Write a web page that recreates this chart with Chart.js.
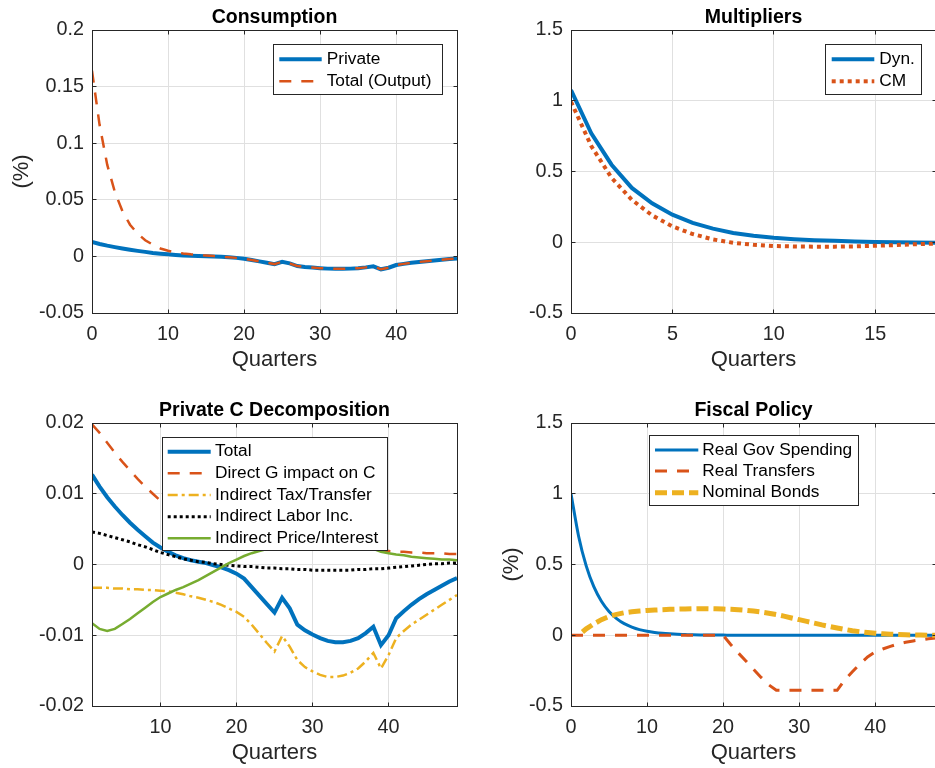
<!DOCTYPE html>
<html>
<head>
<meta charset="utf-8">
<script src="https://cdn.jsdelivr.net/npm/chart.js@4/dist/chart.umd.min.js"></script>
<style>
  html, body { margin: 0; padding: 0; background: #fff; overflow: hidden; width: 935px; height: 768px; position: relative; }
  canvas { position: absolute; }
</style>
</head>
<body>
<canvas id="cons" width="468" height="385" style="left:0px;top:0px"></canvas>
<canvas id="mult" width="480" height="385" style="left:468px;top:0px"></canvas>
<canvas id="decomp" width="468" height="378" style="left:0px;top:390px"></canvas>
<canvas id="fiscal" width="480" height="378" style="left:468px;top:390px"></canvas>
<script>
// ---------- data ----------
// Private consumption response, quarters 1..49 (also the "Total" of the decomposition)
const privateC = [
  0.0127, 0.0110, 0.0095, 0.0082, 0.0070, 0.0059, 0.0049, 0.0040, 0.0031, 0.0024,
  0.0018, 0.0013, 0.0009, 0.0006, 0.0004, 0.0002, -0.0001, -0.0004, -0.0008, -0.0013,
  -0.0020, -0.0032, -0.0044, -0.0056, -0.0068, -0.0047, -0.0062, -0.0085, -0.0093, -0.0099,
  -0.0104, -0.0108, -0.0110, -0.0110, -0.0108, -0.0104, -0.0097, -0.0088, -0.0114, -0.0100,
  -0.0076, -0.0066, -0.0057, -0.0049, -0.0042, -0.0036, -0.0030, -0.0024, -0.0019
];
// Total consumption incl. government (output), quarters 0..48
const outputC = [
  0.164, 0.116, 0.081, 0.057, 0.040, 0.028, 0.020, 0.0143, 0.0103, 0.0070,
  0.0050, 0.0036, 0.0026, 0.0018, 0.0012, 0.0007, 0.0003, -0.0003, -0.0008, -0.0013,
  -0.0020, -0.0032, -0.0044, -0.0056, -0.0068, -0.0047, -0.0062, -0.0085, -0.0093, -0.0099,
  -0.0104, -0.0108, -0.0110, -0.0110, -0.0108, -0.0104, -0.0097, -0.0088, -0.0114, -0.0100,
  -0.0076, -0.0066, -0.0057, -0.0049, -0.0042, -0.0036, -0.0030, -0.0024, -0.0019
];

// Multipliers, quarters 0..18
const multDyn = [1.076, 0.770, 0.548, 0.384, 0.275, 0.195, 0.137, 0.096, 0.066, 0.046,
  0.032, 0.022, 0.015, 0.010, 0.005, 0.002, 0.000, -0.002, -0.003];
const multCM = [0.993, 0.680, 0.455, 0.300, 0.190, 0.112, 0.058, 0.020, -0.004, -0.018,
  -0.026, -0.030, -0.031, -0.031, -0.029, -0.025, -0.020, -0.014, -0.009];

// Private C decomposition, quarters 1..49
const directG = [
  0.0198, 0.0186, 0.0172, 0.0158, 0.0145, 0.0133, 0.0121, 0.0110, 0.0100, 0.0090,
  0.0082, 0.0075, 0.0069, 0.0063, 0.0058, 0.0054, 0.0050, 0.0047, 0.0044, 0.0041,
  0.0039, 0.0037, 0.0035, 0.0033, 0.0032, 0.0030, 0.0029, 0.0028, 0.0027, 0.0026,
  0.0025, 0.0024, 0.0023, 0.0023, 0.0022, 0.0022, 0.0021, 0.0021, 0.0020, 0.0019,
  0.0018, 0.0018, 0.0017, 0.0017, 0.0016, 0.0016, 0.0016, 0.0015, 0.0015
];
const taxTransfer = [
  -0.0033, -0.0033, -0.0033, -0.0034, -0.0034, -0.0035, -0.0035, -0.0036, -0.0036, -0.0037,
  -0.0038, -0.0040, -0.0042, -0.0045, -0.0047, -0.0050, -0.0053, -0.0057, -0.0062, -0.0067,
  -0.0074, -0.0085, -0.0098, -0.0111, -0.0123, -0.0101, -0.0116, -0.0135, -0.0145, -0.0151,
  -0.0156, -0.0159, -0.0159, -0.0157, -0.0153, -0.0147, -0.0137, -0.0125, -0.0147, -0.0128,
  -0.0104, -0.0094, -0.0085, -0.0078, -0.0071, -0.0064, -0.0057, -0.0050, -0.0043
];
const laborInc = [
  0.0046, 0.0044, 0.0041, 0.0038, 0.0035, 0.0032, 0.0028, 0.0025, 0.0021, 0.0017,
  0.0014, 0.0011, 0.0008, 0.0006, 0.0004, 0.0003, 0.0001, 0.0000, -0.0001, -0.0002,
  -0.0003, -0.0003, -0.0004, -0.0005, -0.0005, -0.0006, -0.0006, -0.0007, -0.0007, -0.0008,
  -0.0008, -0.0008, -0.0008, -0.0008, -0.0008, -0.0007, -0.0007, -0.0006, -0.0006, -0.0005,
  -0.0004, -0.0003, -0.0002, -0.0001, 0.0000, 0.0001, 0.0001, 0.0002, 0.0002
];
const priceInterest = [
  -0.0083, -0.0091, -0.0094, -0.0091, -0.0084, -0.0077, -0.0069, -0.0061, -0.0053, -0.0046,
  -0.0041, -0.0036, -0.0032, -0.0027, -0.0022, -0.0016, -0.0010, -0.0004, 0.0002, 0.0007,
  0.0012, 0.0016, 0.0019, 0.0022, 0.0025, 0.0027, 0.0029, 0.0031, 0.0033, 0.0034,
  0.0035, 0.0036, 0.0036, 0.0036, 0.0035, 0.0033, 0.0029, 0.0022, 0.0018, 0.0016,
  0.0014, 0.0013, 0.0011, 0.0010, 0.0009, 0.0008, 0.0007, 0.0007, 0.0006
];

// Fiscal policy, quarters 0..48
const govSpending = [
  1.000, 0.700, 0.490, 0.343, 0.240, 0.168, 0.118, 0.082, 0.058, 0.040,
  0.028, 0.020, 0.014, 0.010, 0.007, 0.005, 0.003, 0.002, 0.002, 0.001,
  0.001, 0, 0, 0, 0, 0, 0, 0, 0, 0,
  0, 0, 0, 0, 0, 0, 0, 0, 0, 0,
  0, 0, 0, 0, 0, 0, 0, 0, 0
];
const realTransfers = [
  0, 0, 0, 0, 0, 0, 0, 0, 0, 0,
  0, 0, 0, 0, 0, 0, 0, 0, 0, 0,
  0, -0.065, -0.125, -0.182, -0.240, -0.298, -0.350, -0.389, -0.389, -0.389,
  -0.389, -0.389, -0.389, -0.389, -0.389, -0.389, -0.315, -0.258, -0.203, -0.153,
  -0.118, -0.097, -0.079, -0.062, -0.050, -0.040, -0.032, -0.025, -0.020
];
const nominalBonds = [
  null, 0.000, 0.045, 0.080, 0.110, 0.132, 0.148, 0.159, 0.166, 0.171,
  0.175, 0.178, 0.181, 0.183, 0.185, 0.186, 0.187, 0.188, 0.188, 0.187,
  0.185, 0.183, 0.180, 0.176, 0.171, 0.164, 0.156, 0.146, 0.135, 0.122,
  0.110, 0.098, 0.086, 0.073, 0.062, 0.051, 0.041, 0.032, 0.025, 0.019,
  0.014, 0.010, 0.007, 0.005, 0.003, 0.002, 0.001, 0.000, 0.000
];

// Tick values
const ticksX48 = [0, 10, 20, 30, 40];
const ticksXDecomp = [10, 20, 30, 40];
const ticksXMult = [0, 5, 10, 15];
const ticksYCons = [-0.05, 0, 0.05, 0.1, 0.15, 0.2];
const ticksYMult = [-0.5, 0, 0.5, 1, 1.5];
const ticksYDecomp = [-0.02, -0.01, 0, 0.01, 0.02];

// ---------- styling ----------
const FONT = '"Liberation Sans", Arial, Helvetica, sans-serif';
const AXIS = '#262626';
const GRID = '#E0E0E0';
const BLUE = '#0072BD', RED = '#D95319', YELLOW = '#EDB120', GREEN = '#77AC30';

const series = (xStart, ys) => ys.map((y, i) => ({ x: xStart + i, y }));

function line(label, data, color, width, dash, extra) {
  return Object.assign({
    label, data, borderColor: color, backgroundColor: color,
    borderWidth: width, borderDash: dash || [], pointRadius: 0, fill: false,
    tension: 0, spanGaps: false
  }, extra || {});
}

function alignPx(v) { return Math.round(v - 0.5) + 0.5; }

// Box, inward tick marks, title and legend drawn in the MATLAB axes style
const axesDecor = {
  id: 'axesDecor',
  afterDatasetsDraw(chart, args, opts) {
    const { ctx, chartArea: a, scales } = chart;
    const L = alignPx(a.left), R = alignPx(a.right), T = alignPx(a.top), B = alignPx(a.bottom);
    ctx.save();
    ctx.strokeStyle = AXIS;
    ctx.lineWidth = 1;
    ctx.setLineDash([]);
    ctx.strokeRect(L, T, R - L, B - T);
    const tl = 4;
    ctx.beginPath();
    scales.x.ticks.forEach(t => {
      const p = alignPx(scales.x.getPixelForValue(t.value));
      ctx.moveTo(p, B); ctx.lineTo(p, B - tl);
      ctx.moveTo(p, T); ctx.lineTo(p, T + tl);
    });
    scales.y.ticks.forEach(t => {
      const p = alignPx(scales.y.getPixelForValue(t.value));
      ctx.moveTo(L, p); ctx.lineTo(L + tl, p);
      ctx.moveTo(R, p); ctx.lineTo(R - tl, p);
    });
    ctx.stroke();

    // title
    ctx.fillStyle = '#000';
    ctx.font = 'bold 19.5px ' + FONT;
    ctx.textAlign = 'center';
    ctx.textBaseline = 'alphabetic';
    ctx.fillText(opts.title, (a.left + a.right) / 2, a.top - 7.5);

    // legend
    const g = opts.legend, ox = opts.origin[0], oy = opts.origin[1];
    const bx0 = g.box[0] - ox, by0 = g.box[1] - oy, bx1 = g.box[2] - ox, by1 = g.box[3] - oy;
    ctx.fillStyle = '#fff';
    ctx.fillRect(bx0, by0, bx1 - bx0, by1 - by0);
    ctx.strokeStyle = AXIS;
    ctx.lineWidth = 1;
    ctx.strokeRect(bx0, by0, bx1 - bx0, by1 - by0);
    ctx.font = '17.3px ' + FONT;
    ctx.textAlign = 'left';
    ctx.textBaseline = 'middle';
    chart.data.datasets.forEach((ds, i) => {
      const y = g.rows[i] - oy;
      ctx.save();
      ctx.strokeStyle = ds.borderColor;
      ctx.lineWidth = ds.borderWidth;
      ctx.setLineDash(ds.borderDash || []);
      ctx.lineDashOffset = 0;
      ctx.beginPath();
      ctx.moveTo(g.sample[0] - ox, y);
      ctx.lineTo(g.sample[1] - ox, y);
      ctx.stroke();
      ctx.restore();
      ctx.fillStyle = '#000';
      ctx.fillText(ds.label, g.textX - ox, y);
    });
    ctx.restore();
  }
};

function makeChart(id, p) {
  const n = p.datasets.length;
  p.datasets.forEach((d, i) => { d.order = n - i; });
  const tickFont = { family: FONT, size: 19.8 };
  const yScale = {
    type: 'linear', min: p.yMin, max: p.yMax,
    afterBuildTicks: s => { s.ticks = p.yTicks.map(v => ({ value: v })); },
    afterFit: s => { s.width = p.yWidth; },
    grid: { color: GRID, lineWidth: 1, drawTicks: false },
    border: { display: false },
    ticks: { font: tickFont, color: AXIS, padding: 8, autoSkip: false, callback: v => String(v) },
    title: p.yTitle ? { display: true, text: p.yTitle, color: AXIS,
      font: { family: FONT, size: 22 }, padding: { top: p.yTitlePad, bottom: 0 } } : { display: false }
  };
  const xScale = {
    type: 'linear', min: p.xMin, max: p.xMax,
    afterBuildTicks: s => { s.ticks = p.xTicks.map(v => ({ value: v })); },
    afterFit: s => { s.height = 60; },
    grid: { color: GRID, lineWidth: 1, drawTicks: false },
    border: { display: false },
    ticks: { font: tickFont, color: AXIS, padding: 10, autoSkip: false, maxRotation: 0, callback: v => String(v) },
    title: { display: true, text: 'Quarters', color: AXIS,
      font: { family: FONT, size: 22 }, padding: { top: 0, bottom: 0 } }
  };
  return new Chart(document.getElementById(id), {
    type: 'line',
    data: { datasets: p.datasets },
    options: {
      responsive: false, animation: false, devicePixelRatio: 1,
      layout: { padding: p.padding },
      plugins: {
        legend: { display: false }, tooltip: { enabled: false }, title: { display: false },
        axesDecor: { title: p.title, legend: p.legend, origin: p.origin }
      },
      scales: { x: xScale, y: yScale }
    },
    plugins: [axesDecor]
  });
}

// Consumption
makeChart('cons', {
  title: 'Consumption', origin: [0, 0],
  padding: { top: 30, left: 0, right: 11, bottom: 12 }, yWidth: 92,
  xMin: 0, xMax: 48, xTicks: ticksX48,
  yMin: -0.05, yMax: 0.2, yTicks: ticksYCons, yTitle: '(%)', yTitlePad: 8.8,
  legend: { box: [273.5, 44.5, 442.5, 94.5], sample: [279.3, 321.7], textX: 326.7, rows: [59.3, 81.3] },
  datasets: [
    line('Private', series(0, privateC), BLUE, 4),
    line('Total (Output)', series(0, outputC), RED, 2.5, [12, 10])
  ]
});

// Multipliers
makeChart('mult', {
  title: 'Multipliers', origin: [468, 0],
  padding: { top: 30, left: 0, right: 12, bottom: 12 }, yWidth: 103,
  xMin: 0, xMax: 18, xTicks: ticksXMult,
  yMin: -0.5, yMax: 1.5, yTicks: ticksYMult,
  legend: { box: [825.5, 44.5, 921.5, 94.5], sample: [831.7, 874.3], textX: 879.3, rows: [59.3, 81.3] },
  datasets: [
    line('Dyn.', series(0, multDyn), BLUE, 4),
    line('CM', series(0, multCM), RED, 4, [4, 4])
  ]
});

// Private C decomposition
makeChart('decomp', {
  title: 'Private C Decomposition', origin: [0, 390],
  padding: { top: 33, left: 0, right: 11, bottom: 2 }, yWidth: 92,
  xMin: 1, xMax: 49, xTicks: ticksXDecomp,
  yMin: -0.02, yMax: 0.02, yTicks: ticksYDecomp,
  legend: { box: [162.5, 437.5, 387.5, 550.5], sample: [167.7, 210.7], textX: 215,
    rows: [451.7, 473.3, 495, 516.7, 538.3] },
  datasets: [
    line('Total', series(1, privateC), BLUE, 4),
    line('Direct G impact on C', series(1, directG), RED, 2.5, [12, 10]),
    line('Indirect Tax/Transfer', series(1, taxTransfer), YELLOW, 2.5, [10, 4, 3, 4]),
    line('Indirect Labor Inc.', series(1, laborInc), '#000000', 3, [3, 3]),
    line('Indirect Price/Interest', series(1, priceInterest), GREEN, 2.5)
  ]
});

// Fiscal policy
makeChart('fiscal', {
  title: 'Fiscal Policy', origin: [468, 390],
  padding: { top: 33, left: 0, right: 12, bottom: 2 }, yWidth: 103,
  xMin: 0, xMax: 48, xTicks: ticksX48,
  yMin: -0.5, yMax: 1.5, yTicks: ticksYMult, yTitle: '(%)', yTitlePad: 30.5,
  legend: { box: [649.5, 435.5, 858.5, 505.5], sample: [655, 698.3], textX: 702.3,
    rows: [450, 471, 492.7] },
  datasets: [
    line('Real Gov Spending', series(0, govSpending), BLUE, 3, [], { cubicInterpolationMode: 'monotone' }),
    line('Real Transfers', series(0, realTransfers), RED, 3, [12, 10]),
    line('Nominal Bonds', series(0, nominalBonds), YELLOW, 5, [12, 5], { borderDashOffset: 12 })
  ]
});
</script>
</body>
</html>
